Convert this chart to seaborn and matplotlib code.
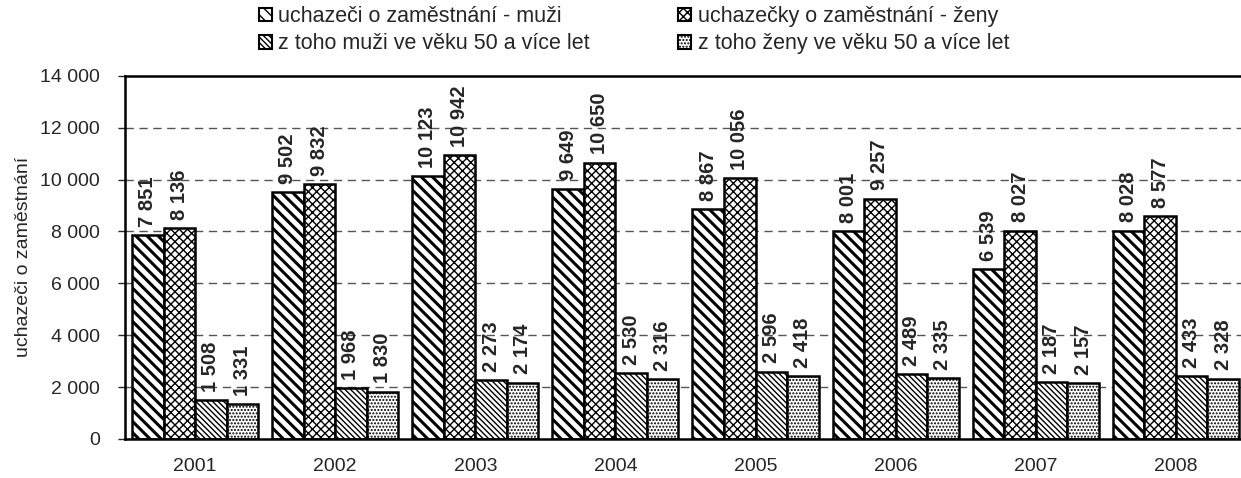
import numpy as np
import pandas as pd
import matplotlib
matplotlib.use("Agg")
import matplotlib.pyplot as plt
from matplotlib.ticker import FuncFormatter, MultipleLocator
from matplotlib.patches import Patch
import seaborn as sns

years = ["2001", "2002", "2003", "2004", "2005", "2006", "2007", "2008"]
muzi = [7851, 9502, 10123, 9649, 8867, 8001, 6539, 8028]
zeny = [8136, 9832, 10942, 10650, 10056, 9257, 8027, 8577]
muzi50 = [1508, 1968, 2273, 2530, 2596, 2489, 2187, 2433]
zeny50 = [1331, 1830, 2174, 2316, 2418, 2335, 2157, 2328]
series = ["uchazeči o zaměstnání - muži",
          "uchazečky o zaměstnání - ženy",
          "z toho muži ve věku 50 a více let",
          "z toho ženy ve věku 50 a více let"]
hatches = ["\\\\\\", "xxxx", "\\\\\\\\\\\\", "....."]
hatch_lw = [2.2, 1.0, 1.0, 1.0]

df = pd.DataFrame({
    "rok": years * 4,
    "serie": np.repeat(series, len(years)),
    "pocet": muzi + zeny + muzi50 + zeny50,
})

sns.set_style("white")
plt.rcParams["font.family"] = ["Liberation Sans", "DejaVu Sans"]
plt.rcParams["hatch.color"] = "black"

fig = plt.figure(figsize=(12.41, 4.78), dpi=100)
# right edge of the plot runs off the canvas, like the original
ax = fig.add_axes([0.1007, 0.0816, 0.9033, 0.760])

sns.barplot(data=df, x="rok", y="pocet", hue="serie", hue_order=series,
            palette=["white"] * 4, edgecolor="black", linewidth=1.8,
            width=0.9, gap=0, legend=False, ax=ax)

for cont, h, lw in zip(ax.containers, hatches, hatch_lw):
    for p in cont:
        p.set_hatch(h)
        if hasattr(p, "set_hatch_linewidth"):
            p.set_hatch_linewidth(lw)
    labels = [f"{int(v):,}".replace(",", " ") for v in cont.datavalues]
    ax.bar_label(cont, labels=labels, rotation=90, padding=6,
                 fontsize=14.5, fontweight="bold")

ax.set_ylim(0, 14000)
ax.set_xlim(-0.5, len(years) - 0.5)
ax.yaxis.set_major_locator(MultipleLocator(2000))
ax.yaxis.set_major_formatter(FuncFormatter(lambda v, p: f"{int(v):,}".replace(",", " ")))
for y in range(2000, 14000, 2000):
    ax.axhline(y, color="#555555", linestyle=(0, (6, 4)), linewidth=1, zorder=0)

ax.set_xticks(np.arange(-0.5, len(years), 1.0), minor=False)
ax.set_xticklabels([])
ax.set_xticks(np.arange(len(years)), minor=True)
ax.set_xticklabels(years, minor=True)
ax.tick_params(axis="x", which="major", direction="out", length=6, width=1, colors="black")
ax.tick_params(axis="x", which="minor", length=0, labelsize=14, pad=14)
ax.tick_params(axis="y", direction="out", length=5, width=1, labelsize=14, left=True, pad=13)
ax.set_xlabel("")
ax.set_ylabel("uchazeči o zaměstnání", fontsize=14, labelpad=6)

ax.spines["right"].set_visible(False)
for s in ["left", "bottom", "top"]:
    ax.spines[s].set_color("black")
    ax.spines[s].set_linewidth(1.8)

handles = [Patch(facecolor="white", edgecolor="black", hatch=h, linewidth=1.5) for h in hatches]
order = [0, 2, 1, 3]
fig.legend([handles[i] for i in order], [series[i] for i in order],
           ncol=2, loc="upper left", bbox_to_anchor=(0.193, 1.028),
           frameon=False, fontsize=15.5, handlelength=0.6, handleheight=0.6,
           handletextpad=0.3, columnspacing=4.1, labelspacing=0.3)

fig.savefig("out.png", dpi=100)
